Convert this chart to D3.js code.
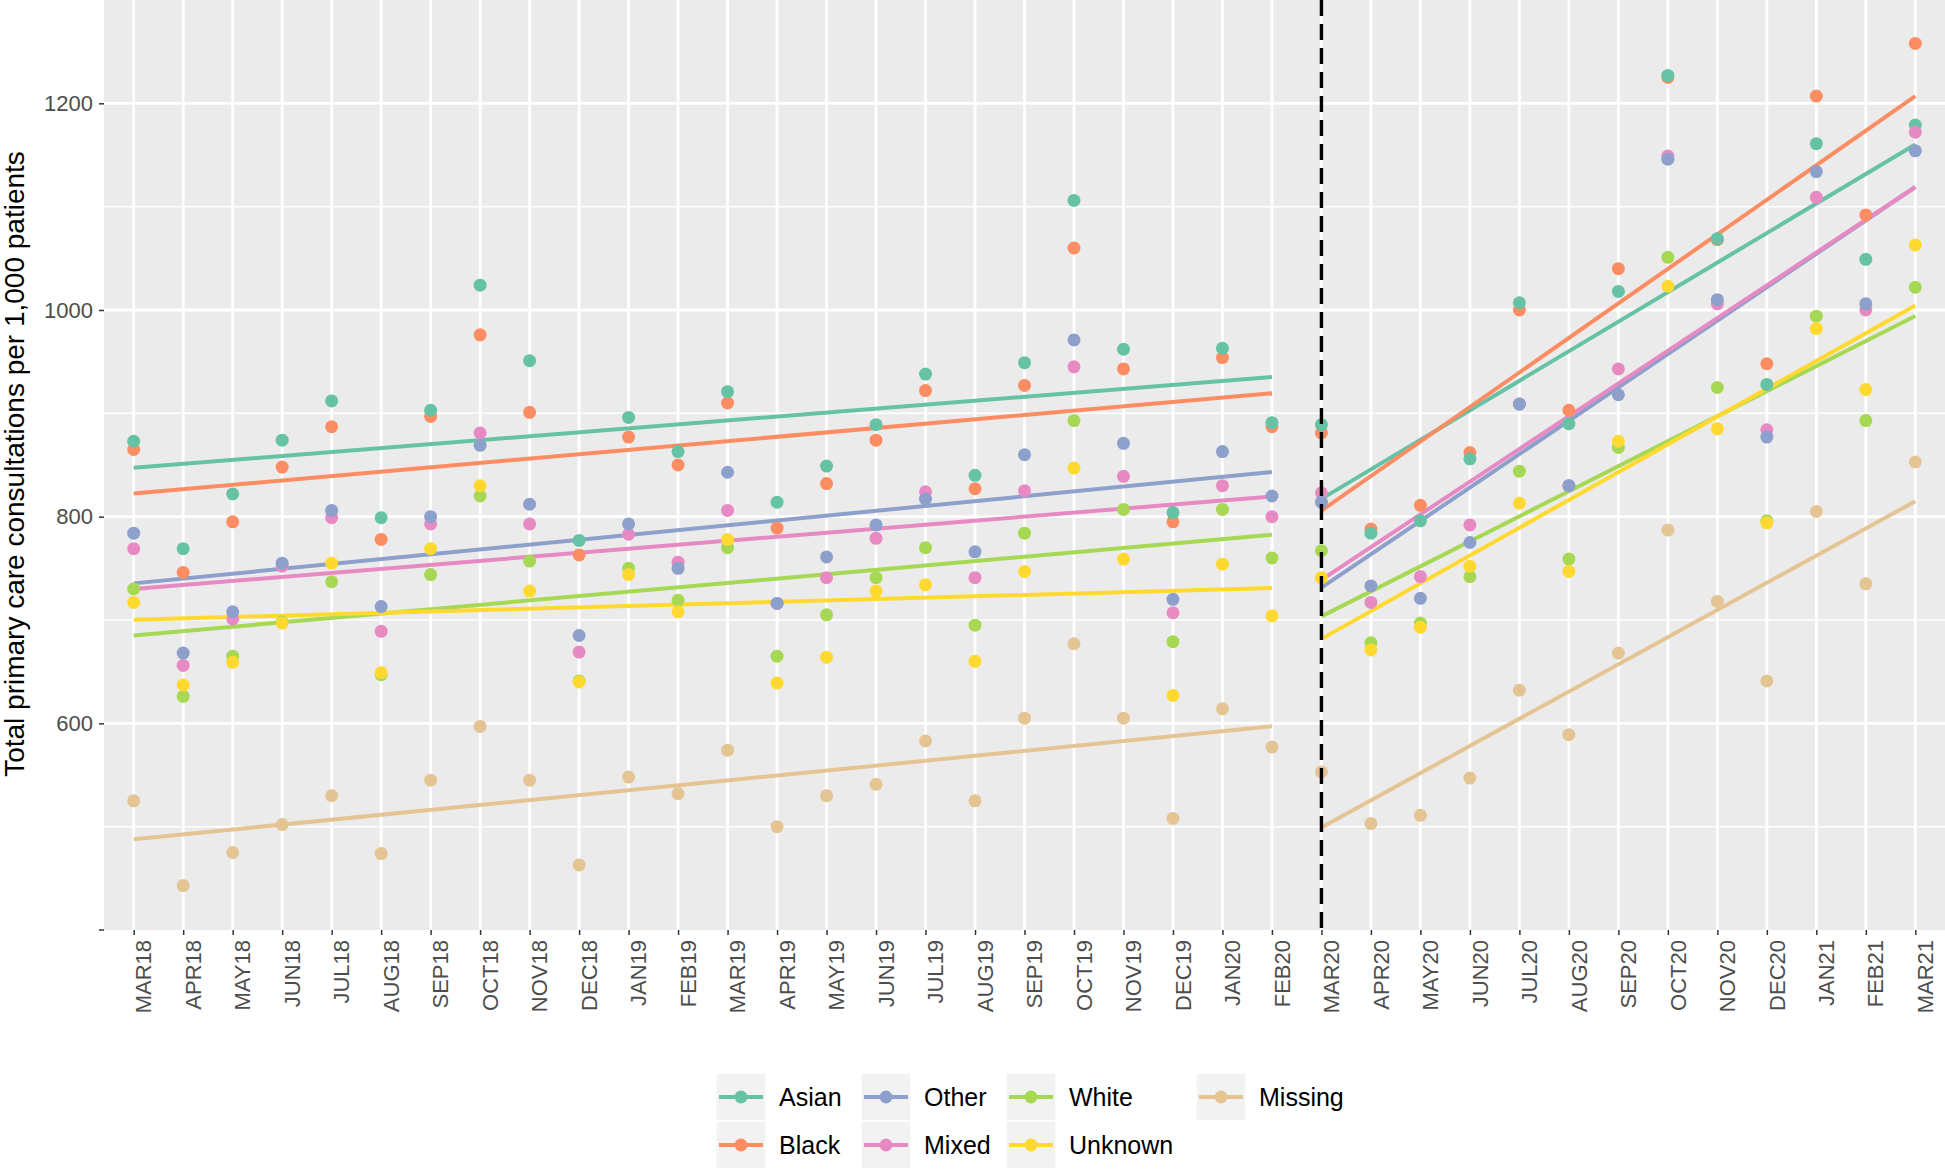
<!DOCTYPE html>
<html><head><meta charset="utf-8">
<script src="https://cdn.jsdelivr.net/npm/d3@7"></script>
<style>body{margin:0;background:#fff}svg{display:block;font-family:"Liberation Sans",Arial,Helvetica,sans-serif}</style>
</head><body><svg id="c" width="1945" height="1170"></svg>
<script>
const months = ["MAR18","APR18","MAY18","JUN18","JUL18","AUG18","SEP18","OCT18","NOV18","DEC18","JAN19","FEB19","MAR19","APR19","MAY19","JUN19","JUL19","AUG19","SEP19","OCT19","NOV19","DEC19","JAN20","FEB20","MAR20","APR20","MAY20","JUN20","JUL20","AUG20","SEP20","OCT20","NOV20","DEC20","JAN21","FEB21","MAR21"];
const breakMonth = "MAR20";
const groups = ["Asian","Black","Other","Mixed","White","Unknown","Missing"];
const colors = ["#66c2a5","#fc8d62","#8da0cb","#e78ac3","#a6d854","#ffd92f","#e5c494"];
const asian   = [873,769,822,874,912,799,903,1024,951,777,896,863,921,814,849,889,938,840,949,1106,962,804,963,891, 889,784,796,856,1007,890,1018,1227,1069,928,1161,1049,1179];
const black   = [865,746,795,848,887,778,897,976,901,763,877,850,910,789,832,874,922,827,927,1060,943,795,954,887, 881,788,811,862,1000,903,1040,1225,1068,948,1207,1092,1258];
const other   = [784,668,708,755,806,713,800,869,812,685,793,750,843,716,761,792,817,766,860,971,871,720,863,820, 814,733,721,775,909,830,918,1146,1010,877,1134,1006,1154];
const mixed   = [769,656,701,752,799,689,793,881,793,669,783,756,806,716,741,779,824,741,825,945,839,707,830,800, 823,717,742,792,909,830,943,1149,1006,884,1109,1000,1172];
const white   = [730,626,665,698,737,647,744,820,757,641,750,719,770,665,705,741,770,695,784,893,807,679,807,760, 767,678,697,742,844,759,867,1051,925,796,994,893,1022];
const unknown = [717,637,659,697,755,649,769,830,728,640,744,708,778,639,664,728,734,660,747,847,759,627,754,704, 741,671,693,752,813,747,873,1023,885,794,982,923,1063];
const missing = [525,443,475,502,530,474,545,597,545,463,548,532,574,500,530,541,583,525,605,677,605,508,614,577, 553,503,511,547,632,589,668,787,718,641,805,735,853];
const seriesValues = [asian,black,other,mixed,white,unknown,missing];
const yMajor = [600,800,1000,1200];
const yMinor = [500,700,900,1100];
const yTitle = "Total primary care consultations per 1,000 patients";

const svg = d3.select("#c");
const P = {l:104, r:1945, t:0, b:930};
const x = d3.scalePoint().domain(months).range([P.l,P.r]).padding(0.6);
const y = d3.scaleLinear().domain([400,1300]).range([P.b,P.t]);
const col = d3.scaleOrdinal().domain(groups).range(colors);

svg.append("rect").attr("x",P.l).attr("y",P.t).attr("width",P.r-P.l).attr("height",P.b-P.t).attr("fill","#ebebeb");
const g = svg.append("g");
g.selectAll(".mn").data(yMinor).join("line").attr("x1",P.l).attr("x2",P.r).attr("y1",d=>y(d)).attr("y2",d=>y(d)).attr("stroke","#fff").attr("stroke-width",1.5);
g.selectAll(".mj").data(yMajor).join("line").attr("x1",P.l).attr("x2",P.r).attr("y1",d=>y(d)).attr("y2",d=>y(d)).attr("stroke","#fff").attr("stroke-width",2.8);
g.selectAll(".vx").data(months).join("line").attr("x1",d=>x(d)).attr("x2",d=>x(d)).attr("y1",P.t).attr("y2",P.b).attr("stroke","#fff").attr("stroke-width",2.8);

// regression lines per segment
const bi = months.indexOf(breakMonth);
function fit(vals, i0, i1){
  const xs=d3.range(i0,i1+1), ys=vals.slice(i0,i1+1);
  const mx=d3.mean(xs), my=d3.mean(ys);
  const s=d3.sum(xs,(v,k)=>(v-mx)*(ys[k]-my))/d3.sum(xs,v=>(v-mx)*(v-mx));
  return [[i0,my+s*(i0-mx)],[i1,my+s*(i1-mx)]];
}
const lineG = svg.append("g");
groups.forEach((gr,k)=>{
  [[0,bi-1],[bi,months.length-1]].forEach(([a,b])=>{
    const seg = fit(seriesValues[k],a,b);
    lineG.append("path").attr("d",d3.line().x(d=>x(months[d[0]])).y(d=>y(d[1]))(seg))
      .attr("stroke",col(gr)).attr("stroke-width",4).attr("fill","none");
  });
});
// points
const drawOrder = ["Black","Asian","White","Unknown","Mixed","Other","Missing"];
const ptG = svg.append("g");
drawOrder.forEach(gr=>{
  const k=groups.indexOf(gr);
  ptG.selectAll(null).data(seriesValues[k]).join("circle")
    .attr("cx",(d,i)=>x(months[i])).attr("cy",d=>y(d)).attr("r",6.5).attr("fill",col(gr));
});
// vertical dashed line
svg.append("line").attr("x1",x(breakMonth)).attr("x2",x(breakMonth)).attr("y1",P.t).attr("y2",P.b)
  .attr("stroke","#000").attr("stroke-width",3.4).attr("stroke-dasharray","16,8");

// axes
const ya = svg.append("g").attr("transform",`translate(${P.l},0)`).call(d3.axisLeft(y).tickValues(yMajor).tickFormat(d3.format("d")).tickSize(5).tickPadding(6));
ya.select(".domain").remove();
ya.selectAll("line").attr("stroke","#333").attr("stroke-width",1.5);
ya.selectAll("text").attr("font-size",22).attr("fill","#4d4d4d").attr("font-family","Liberation Sans, Arial, sans-serif");
svg.append("line").attr("x1",P.l-5).attr("x2",P.l).attr("y1",y(400)).attr("y2",y(400)).attr("stroke","#333").attr("stroke-width",1.5);

const xa = svg.append("g").attr("transform",`translate(0,${P.b})`).call(d3.axisBottom(x).tickSize(5));
xa.select(".domain").remove();
xa.selectAll("line").attr("stroke","#333").attr("stroke-width",1.5);
xa.selectAll("text").attr("font-size",22).attr("fill","#4d4d4d").attr("font-family","Liberation Sans, Arial, sans-serif")
  .attr("transform","rotate(-90)").attr("text-anchor","end").attr("x",-10).attr("y",0).attr("dy","0.78em");

svg.append("text").attr("transform",`translate(23.5,${(P.t+P.b)/2 - 1}) rotate(-90)`).attr("text-anchor","middle")
  .attr("font-size",28).attr("fill","#000").text(yTitle);

// legend
const kw=50, kh=48;
const colX=[716,861,1006,1196];
const rowY=[1073,1121];
const lg = svg.append("g");
groups.forEach((gr,k)=>{
  const cx=colX[Math.floor(k/2)], cy=rowY[k%2];
  const it = lg.append("g").attr("transform",`translate(${cx},${cy})`);
  it.append("rect").attr("width",kw).attr("height",kh).attr("fill","#f2f2f2").attr("stroke","#fff").attr("stroke-width",1.5);
  it.append("line").attr("x1",3).attr("x2",kw-3).attr("y1",kh/2).attr("y2",kh/2).attr("stroke",col(gr)).attr("stroke-width",4);
  it.append("circle").attr("cx",kw/2).attr("cy",kh/2).attr("r",6.5).attr("fill",col(gr));
  it.append("text").attr("x",kw+13).attr("y",kh/2).attr("dy","0.36em").attr("font-size",25).attr("fill","#000").text(gr);
});
</script></body></html>
